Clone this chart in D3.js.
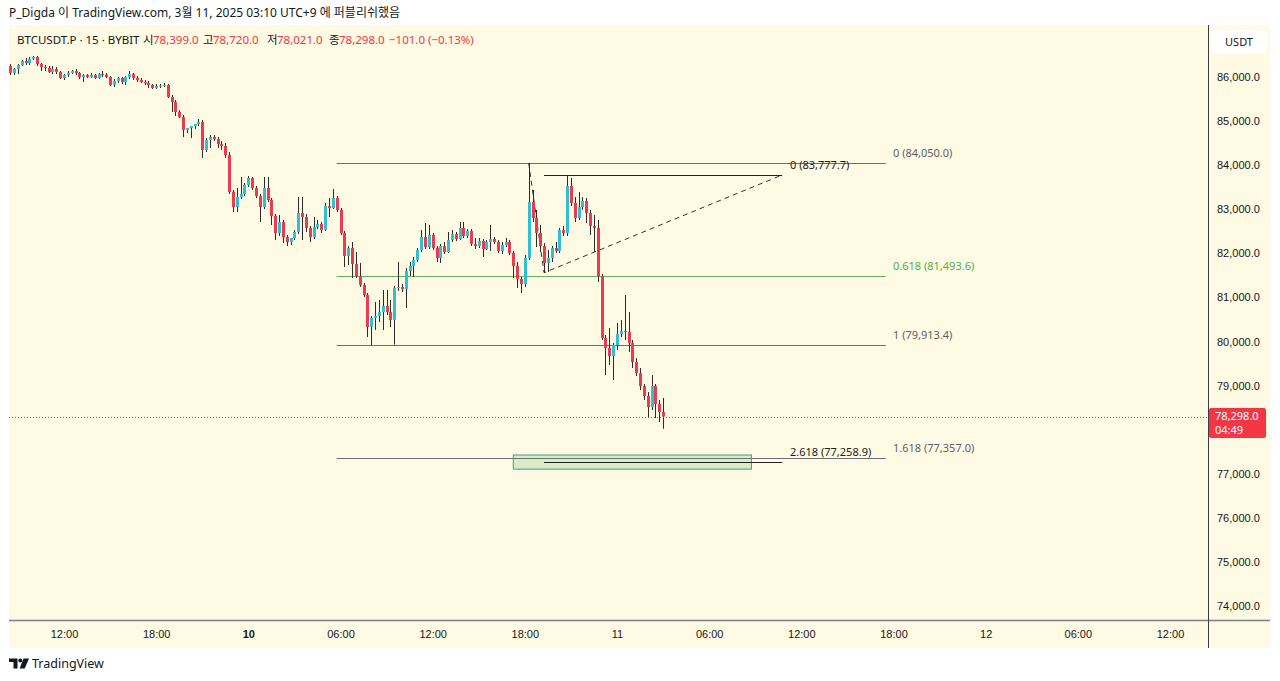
<!DOCTYPE html>
<html><head><meta charset="utf-8">
<script src="https://cdn.jsdelivr.net/npm/d3@7"></script>
<style>
html,body{margin:0;padding:0;background:#ffffff;}
svg{display:block;font-family:"Noto Sans","Noto Sans CJK KR",sans-serif;}
</style></head><body>
<svg id="c" width="1280" height="681"></svg>
<script>
// ---- data: BTCUSDT.P 15m candles, 2025-03-09 08:30 .. 2025-03-11 03:00 (UTC+9) ----
const opens=[
86250,86091,86181,86272,86363,86318,86408,86454,86295,86227,
86204,86113,86181,86113,85977,86045,86091,86136,86091,86000,
86045,86000,86045,85977,86068,86055,86000,85819,85909,85977,
85887,86000,86068,85977,85932,85887,85864,85819,85750,85796,
85805,85819,85546,85433,85206,85093,84798,84843,84888,84934,
84979,84344,84571,84639,84594,84480,84435,84231,83391,83051,
83278,83346,83551,83709,83482,83301,83051,83482,83210,82847,
82461,82711,82370,82257,82348,82484,82915,82824,82575,82370,
82597,82665,82529,83074,83028,83255,82983,82461,81940,82121,
81758,81486,81282,81055,80329,80533,80578,80669,80805,80669,
80488,81214,81237,81191,81599,81713,81849,82076,82370,82144,
82416,82121,81894,82166,82030,82302,82438,82325,82575,82393,
82507,82212,82166,82280,82098,82257,82325,82257,82053,82189,
82257,82008,81713,81418,81305,81894,83165,82801,82461,82166,
81781,81894,82121,82053,82529,82461,83528,83142,82801,83051,
83187,82915,82620,82575,81486,80079,79852,79670,79920,80170,
80238,80216,79966,79534,79284,78989,78762,78514,78989,78582,
78399];
const highs=[
86295,86204,86295,86386,86431,86454,86476,86476,86318,86272,
86250,86250,86227,86136,86068,86136,86159,86181,86113,86068,
86068,86091,86068,86091,86136,86091,86023,85955,86000,86000,
86023,86136,86091,86023,85977,85932,85909,85841,85841,85841,
85864,85841,85592,85478,85251,85138,84843,84888,84934,85047,
85025,84616,84684,84684,84639,84548,84503,84299,83437,83482,
83732,83596,83755,83732,83528,83346,83732,83732,83255,82892,
82870,82756,82416,82348,82529,83278,83278,82892,82620,82824,
82756,82711,83142,83255,83460,83301,83028,82507,82166,82257,
82030,81781,81327,81100,80578,80896,80942,81168,81168,80942,
81259,81803,81305,81667,81803,81917,82121,82529,82688,82643,
82461,82166,82212,82257,82484,82529,82484,82711,82711,82552,
82552,82348,82348,82325,82302,82643,82370,82302,82257,82348,
82302,82053,81803,81463,81962,84050,83437,82983,82643,82234,
82076,82166,82257,82575,82620,83777.7,83709,83278,83391,83278,
83255,82983,82870,82756,81532,80147,80306,79966,80420,80488,
81055,80669,80034,79626,79398,79035,78853,79239,79035,78673,
78720];
const lows=[
86045,86045,86068,86250,86272,86272,86386,86250,86136,86136,
86091,86068,86068,85955,85932,86000,86068,86045,85955,85887,
85977,85977,85955,85955,86000,85977,85796,85773,85864,85841,
85819,85955,85932,85887,85864,85819,85750,85728,85728,85750,
85773,85524,85206,85115,85070,84639,84730,84616,84820,84888,
84163,84299,84389,84548,84389,84344,84163,83346,82938,82938,
83233,83301,83505,83437,83255,82711,83006,83165,82643,82302,
82393,82234,82166,82189,82302,82438,82302,82484,82257,82325,
82552,82461,82507,82824,83006,82938,82416,81690,81735,81441,
81441,81237,81010,80102,79913.4,80261,80442,80261,80601,80329,
79930,81146,81123,80760,81486,81463,81803,82030,82098,82098,
82076,81803,81781,81985,82008,82257,82280,82302,82348,82348,
82166,82098,82121,81917,82076,82053,82212,82008,81985,82144,
81962,81441,81214,81100,81237,81849,82711,82144,82030,81560,
81577,81803,82008,82008,82393,82393,83074,82711,82756,82983,
82688,82416,82030,81350,80034,79239,79466,79125,79807,80102,
80034,79761,79398,79216,78898,78673,78286,78446,78264,78173,
78021];
const closes=[
86091,86181,86272,86363,86318,86408,86454,86295,86227,86204,
86113,86181,86113,85977,86045,86091,86136,86091,86000,86045,
86000,86045,85977,86068,86055,86000,85819,85909,85977,85887,
86000,86068,85977,85932,85887,85864,85819,85750,85796,85805,
85819,85546,85433,85206,85093,84798,84843,84888,84934,84979,
84344,84571,84639,84594,84480,84435,84231,83391,83051,83278,
83346,83551,83709,83482,83301,83051,83482,83210,82847,82461,
82711,82370,82257,82348,82484,82915,82824,82575,82370,82597,
82665,82529,83074,83028,83255,82983,82461,81940,82121,81758,
81486,81282,81055,80329,80533,80578,80669,80805,80669,80488,
81214,81237,81191,81599,81713,81849,82076,82370,82144,82416,
82121,81894,82166,82030,82302,82438,82325,82575,82393,82507,
82212,82166,82280,82098,82257,82325,82257,82053,82189,82257,
82008,81713,81418,81305,81894,83165,82801,82461,82166,81781,
81894,82121,82053,82529,82461,83528,83142,82801,83051,83187,
82915,82620,82575,81486,80079,79852,79670,79920,80170,80238,
80216,79966,79534,79284,78989,78762,78514,78989,78582,78399,
78298];
const firstBar = Date.UTC(2025,2,9,8,30);   // bar open times (UTC+9 wall clock)
const barMinutes = 15;

const priceTicks=[74000,75000,76000,77000,79000,80000,81000,82000,83000,84000,85000,86000];
const timeTickStr=["2025-03-09T12:00","2025-03-09T18:00","2025-03-10T00:00","2025-03-10T06:00","2025-03-10T12:00","2025-03-10T18:00","2025-03-11T00:00","2025-03-11T06:00","2025-03-11T12:00","2025-03-11T18:00","2025-03-12T00:00","2025-03-12T06:00","2025-03-12T12:00"];
const timeTickLabels=["12:00","18:00","10","06:00","12:00","18:00","11","06:00","12:00","18:00","12","06:00","12:00"];

// fib retracement (84,050.0 -> 79,913.4)
const fibHigh=84050.0, fibLow=79913.4;
const fibLevels=[0,0.618,1,1.618];
const fibLabels=["0 (84,050.0)","0.618 (81,493.6)","1 (79,913.4)","1.618 (77,357.0)"];
const fibBars=[85,228];
// trend-based fib extension A -> B -> C
const extBars=[135,139,201];
const extPrices=[84050.0,81560.0,83777.7];
const extLevels=[0,2.618];
const extLabels=["0 (83,777.7)","2.618 (77,258.9)"];
// target box
const boxBars=[131,193];
const boxPrices=[77425,77105];

const lastPrice=78298.0;
const legendParts=[["BTCUSDT.P · 15 · BYBIT",17,"d"],["시",143,"d"],["78,399.0",153,"r"],["고",203,"d"],["78,720.0",213,"r"],["저",267,"d"],["78,021.0",277,"r"],["종",329,"d"],["78,298.0",339,"r"],["−101.0 (−0.13%)",389,"r"]];

// ---- drawing ----
const svg=d3.select("#c");
const BG="#fffae3", UP="#2fc1d3", DN="#ee3a4f", WICK="#2b2b2b", TXT="#131722";
const P={l:9,r:1208,t:25,b:620, outerR:1270, outerB:648};
const parse=s=>new Date(s+":00Z");
const barTime=i=>new Date(firstBar+i*barMinutes*60000);

const x=d3.scaleUtc().domain([parse("2025-03-09T12:00"),parse("2025-03-11T00:00")]).range([64,617]);
const y=d3.scaleLinear().domain([74000,86000]).range([606,77]);

svg.append("rect").attr("x",P.l).attr("y",P.t).attr("width",P.outerR-P.l).attr("height",P.outerB-P.t).attr("fill",BG);

svg.append("defs").append("clipPath").attr("id","clip").append("rect")
  .attr("x",P.l).attr("y",P.t).attr("width",P.r-P.l).attr("height",P.b-P.t);
const g=svg.append("g").attr("clip-path","url(#clip)");

// header
svg.append("text").attr("x",9).attr("y",17).attr("font-size",12).attr("fill",TXT)
  .text("P_Digda 이 TradingView.com, 3월 11, 2025 03:10 UTC+9 에 퍼블리쉬했음");
// legend
legendParts.forEach(p=>{
  svg.append("text").attr("x",p[1]).attr("y",44).attr("font-size",11.5)
    .attr("fill",p[2]==="r"?"#f23645":TXT).text(p[0]);
});

// fib retracement
const fx0=x(barTime(fibBars[0])), fx1=x(barTime(fibBars[1]));
fibLevels.forEach((lv,k)=>{
  const py=Math.round(y(fibHigh-lv*(fibHigh-fibLow)))+0.5;
  const col= lv===0.618?"#5cb85c":"#6b6e76";
  g.append("line").attr("x1",fx0).attr("x2",fx1).attr("y1",py).attr("y2",py).attr("stroke",col).attr("stroke-width",1);
  svg.append("text").attr("x",893).attr("y",py-7).attr("font-size",11)
    .attr("fill",lv===0.618?"#4caf50":"#5d606b").text(fibLabels[k]);
});

// target box
g.append("rect").attr("x",x(barTime(boxBars[0]))).attr("y",y(boxPrices[0]))
  .attr("width",x(barTime(boxBars[1]))-x(barTime(boxBars[0])))
  .attr("height",y(boxPrices[1])-y(boxPrices[0]))
  .attr("fill","rgba(76,175,80,0.2)").attr("stroke","#36a383").attr("stroke-width",1);

// extension
const ex=extBars.map(b=>x(barTime(b))), ey=extPrices.map(p=>y(p));
g.append("path").attr("d",`M${ex[0]},${ey[0]}L${ex[1]},${ey[1]}L${ex[2]},${ey[2]}`)
  .attr("fill","none").attr("stroke","#333").attr("stroke-width",1).attr("stroke-dasharray","5 4");
extLevels.forEach((lv,k)=>{
  const pr=extPrices[2]-lv*(extPrices[0]-extPrices[1]);
  const py=Math.round(y(pr))+0.5;
  g.append("line").attr("x1",ex[1]).attr("x2",ex[2]).attr("y1",py).attr("y2",py).attr("stroke","#222").attr("stroke-width",1);
  svg.append("text").attr("x",790).attr("y",py-7).attr("font-size",11).attr("fill","#222").text(extLabels[k]);
});

// candles
const idx=d3.range(opens.length);
const cg=g.append("g");
cg.selectAll("line.w").data(idx).join("line").attr("class","w")
  .attr("x1",i=>Math.round(x(barTime(i)))+0.5).attr("x2",i=>Math.round(x(barTime(i)))+0.5)
  .attr("y1",i=>y(highs[i])).attr("y2",i=>y(lows[i])).attr("stroke",WICK).attr("stroke-width",1);
cg.selectAll("rect.b").data(idx).join("rect").attr("class","b")
  .attr("x",i=>Math.round(x(barTime(i)))-1).attr("width",3)
  .attr("y",i=>y(Math.max(opens[i],closes[i])))
  .attr("height",i=>Math.max(1,Math.abs(y(opens[i])-y(closes[i]))))
  .attr("fill",i=>closes[i]>=opens[i]?UP:DN);

// current price line
const lp=Math.round(y(lastPrice))+0.5;
svg.append("line").attr("x1",P.l).attr("x2",P.r).attr("y1",lp).attr("y2",lp)
  .attr("stroke","#f23645").attr("stroke-width",1).attr("stroke-dasharray","1 2");

// axes frames
svg.append("line").attr("x1",P.l).attr("x2",P.outerR).attr("y1",P.b+0.5).attr("y2",P.b+0.5).attr("stroke","#7b7e87").attr("stroke-width",1.5);
svg.append("line").attr("x1",P.r+0.5).attr("x2",P.r+0.5).attr("y1",P.t).attr("y2",P.outerB).attr("stroke","#3a3d45").attr("stroke-width",1);

// price axis
const ya=svg.append("g").attr("transform",`translate(${P.r},0)`)
  .call(d3.axisRight(y).tickValues(priceTicks).tickFormat(d3.format(",.1f")).tickSize(0).tickPadding(9));
ya.select(".domain").remove();
ya.selectAll("text").attr("font-size",11).attr("fill",TXT).attr("font-family",null);

// time axis
const xa=svg.append("g").attr("transform",`translate(0,${P.b})`)
  .call(d3.axisBottom(x).tickValues(timeTickStr.map(parse)).tickFormat((d,i)=>timeTickLabels[i]).tickSize(0).tickPadding(10));
xa.select(".domain").remove();
xa.selectAll("text").attr("font-size",11).attr("fill",TXT).attr("font-family",null)
  .attr("font-weight",(d,i)=>timeTickLabels[i]==="10"?"bold":"normal");
xa.selectAll(".tick").filter(d=>x(d)>P.r-10).remove();

// USDT box
svg.append("rect").attr("x",1211).attr("y",30).attr("width",56).attr("height",23).attr("rx",4).attr("fill","#ffffff");
svg.append("text").attr("x",1239).attr("y",45.5).attr("text-anchor","middle").attr("font-size",11).attr("fill",TXT).text("USDT");

// last price label
svg.append("rect").attr("x",1209).attr("y",408).attr("width",57).attr("height",30).attr("rx",2).attr("fill","#f23645");
svg.append("text").attr("x",1215).attr("y",420).attr("font-size",11).attr("fill","#fff").text(d3.format(",.1f")(lastPrice));
svg.append("text").attr("x",1215).attr("y",434).attr("font-size",11).attr("fill","#fff").text("04:49");

// footer logo
const lg=svg.append("g").attr("fill",TXT);
lg.append("path").attr("d","M9,658.5h8.5v10h-4v-6.5h-4.5z");
lg.append("circle").attr("cx",20.3).attr("cy",660.6).attr("r",2);
lg.append("path").attr("d","M23.5,658.5h5.5l-4.3,10h-5z");
svg.append("text").attr("x",32).attr("y",668).attr("font-size",12.5).attr("fill",TXT).text("TradingView");
</script>
</body></html>
